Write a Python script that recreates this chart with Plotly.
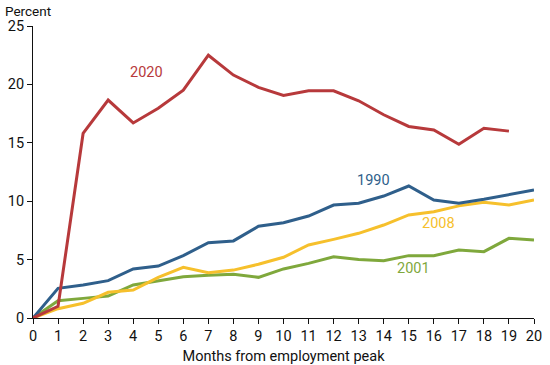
import plotly.graph_objects as go

months = list(range(21))
y2020 = [0, 1.0, 15.8, 18.66, 16.7, 17.95, 19.5, 22.5, 20.8, 19.75, 19.05, 19.45, 19.45, 18.6, 17.4, 16.4, 16.1, 14.87, 16.25, 16.0]
y1990 = [0, 2.54, 2.83, 3.2, 4.2, 4.45, 5.34, 6.45, 6.6, 7.85, 8.16, 8.73, 9.67, 9.82, 10.44, 11.3, 10.1, 9.82, 10.16, 10.53, 10.96]
y2008 = [0, 0.8, 1.26, 2.2, 2.4, 3.48, 4.34, 3.88, 4.1, 4.6, 5.2, 6.25, 6.73, 7.25, 7.96, 8.82, 9.1, 9.6, 9.9, 9.67, 10.1]
y2001 = [0, 1.48, 1.68, 1.88, 2.83, 3.17, 3.54, 3.65, 3.74, 3.48, 4.2, 4.68, 5.25, 5.0, 4.9, 5.34, 5.34, 5.82, 5.68, 6.82, 6.68]

series = [
    ("2001", y2001, "#7fa83c", 15.2, 4.2),
    ("2008", y2008, "#f6c02c", 16.17, 8.13),
    ("1990", y1990, "#2f5f8b", 13.6, 11.8),
    ("2020", y2020, "#b7393b", 4.53, 21.06),
]

fig = go.Figure()
for name, ys, color, lx, ly in series:
    fig.add_trace(go.Scatter(x=months[:len(ys)], y=ys, mode="lines", name=name,
                             line=dict(color=color, width=3), showlegend=False))
    fig.add_annotation(x=lx, y=ly, text=name, showarrow=False,
                       font=dict(family="Roboto", size=14.5, color=color))

fig.add_annotation(x=0, y=1, xref="paper", yref="paper", xanchor="left", yanchor="middle",
                   xshift=-30, yshift=15, text="Percent", showarrow=False,
                   font=dict(family="Roboto", size=13.5, color="#111"))

fig.update_layout(
    width=550, height=365,
    margin=dict(l=33, r=16, t=26, b=47, autoexpand=False),
    paper_bgcolor="white", plot_bgcolor="white",
    font=dict(family="Roboto", size=14.5, color="#111"),
)
fig.update_xaxes(range=[0, 20], tickmode="linear", dtick=1, showgrid=False, zeroline=False,
                 showline=True, linecolor="#111", linewidth=1, ticks="outside", ticklen=5,
                 tickcolor="#111", tickfont=dict(size=14.5), automargin=False,
                 title=dict(text="Months from employment peak", font=dict(size=14.5), standoff=9))
fig.update_yaxes(range=[0, 25], tickmode="linear", dtick=5, showgrid=False, zeroline=False,
                 showline=True, linecolor="#111", linewidth=1, ticks="outside", ticklen=5,
                 tickcolor="#111", tickfont=dict(size=14.5), automargin=False)

fig.write_html("out.html", config={"displayModeBar": False},
               post_script="document.body.style.margin='0';document.body.style.padding='0';")
